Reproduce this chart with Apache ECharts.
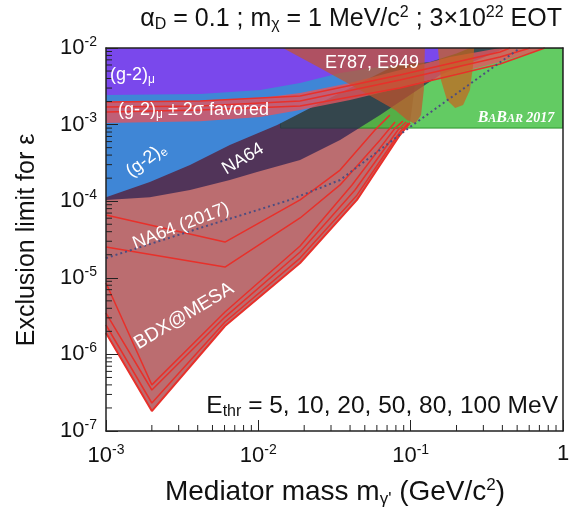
<!DOCTYPE html>
<html><head><meta charset="utf-8">
<script src="https://cdn.jsdelivr.net/npm/echarts@6/dist/echarts.min.js"></script>
<style>html,body{margin:0;padding:0;background:#fff}#c{width:574px;height:515px}</style>
</head><body><div id="c"></div>
<script>
// ---------------- data ----------------
const xMinorTicks = [2e-3,3e-3,4e-3,5e-3,6e-3,7e-3,8e-3,9e-3,2e-2,3e-2,4e-2,5e-2,6e-2,7e-2,8e-2,9e-2,0.2,0.3,0.4,0.5,0.6,0.7,0.8,0.9];
const yMinorTicks = [2e-7,3e-7,4e-7,5e-7,6e-7,7e-7,8e-7,9e-7,2e-6,3e-6,4e-6,5e-6,6e-6,7e-6,8e-6,9e-6,2e-5,3e-5,4e-5,5e-5,6e-5,7e-5,8e-5,9e-5,2e-4,3e-4,4e-4,5e-4,6e-4,7e-4,8e-4,9e-4,2e-3,3e-3,4e-3,5e-3,6e-3,7e-3,8e-3,9e-3];

// (g-2)_e excluded (blue)
const g2eExcl = [[1e-3,1.13e-4],[1.94e-3,1.78e-4],[3.56e-3,2.97e-4],[6.5e-3,5.42e-4],[1.33e-2,9.9e-4],[2.54e-2,1.91e-3],[4.65e-2,3.49e-3],[8.5e-2,6.37e-3],[0.134,1e-2],[1e-3,1e-2]];
// (g-2)_mu excluded (purple)
const g2muExcl = [[1e-3,2.43e-3],[4.15e-3,2.5e-3],[1.03e-2,2.83e-3],[1.88e-2,3.49e-3],[3.44e-2,4.72e-3],[6.3e-2,5.7e-3],[0.134,6.56e-3],[0.2,8.5e-3],[0.245,1e-2],[1e-3,1e-2]];
// (g-2)_mu +- 2 sigma favoured band
const g2muBandUpper = [[1e-3,1.97e-3],[4.15e-3,2.03e-3],[1.03e-2,2.22e-3],[1.88e-2,2.59e-3],[4.0e-2,3.49e-3],[8.5e-2,5.16e-3],[0.181,7.63e-3],[0.386,1e-2]];
const g2muBandLower = [[1e-3,1.05e-3],[4.15e-3,1.11e-3],[1.03e-2,1.26e-3],[1.88e-2,1.55e-3],[4.0e-2,2.1e-3],[8.5e-2,3.0e-3],[0.181,4.45e-3],[0.386,6.56e-3],[0.76,1e-2]];
// BaBar 2017
const babarExcl = [[0.014,9e-4],[1,9e-4],[1,1e-2],[0.014,1e-2]];
// NA64 excluded (dark)
const na64Excl = [[1e-3,1.04e-4],[1.94e-3,1.13e-4],[3.56e-3,1.4e-4],[6.5e-3,1.89e-4],[9.8e-3,2.41e-4],[1.88e-2,3.45e-4],[3.44e-2,6.3e-4],[6.3e-2,1.33e-3],[0.099,2.43e-3],[0.156,4.45e-3],[0.3,7.5e-3],[0.42,1e-2],[1e-3,1e-2]];
// E787, E949 lobes
const e787Lobe1 = [[1.45e-2,1e-2],[2.54e-2,5.48e-3],[4.65e-2,2.83e-3],[7.9e-2,1.55e-3],[9.46e-2,1.15e-3],[0.107,1.02e-3],[0.117,1.33e-3],[0.122,2.83e-3],[0.124,1e-2]];
const e787Lobe2 = [[0.151,1e-2],[0.158,3.82e-3],[0.173,2.1e-3],[0.196,1.65e-3],[0.221,1.8e-3],[0.245,2.83e-3],[0.257,6.0e-3],[0.261,1e-2]];
// BDX@MESA curves, E_thr = 5, 10, 20, 50, 80, 100 MeV
const bdx5   = [[1e-3,1.9e-6],[2e-3,1.82e-7],[6.04e-3,2.35e-6],[1.88e-2,1.56e-5],[4.44e-2,1.04e-4],[8.5e-2,7.3e-4],[0.099,1.05e-3]];
const bdx10  = [[1e-3,2.42e-6],[2e-3,2.32e-7],[6.04e-3,2.65e-6],[1.88e-2,1.81e-5],[4.44e-2,1.2e-4],[8.5e-2,8.0e-4],[0.0962,1.05e-3]];
const bdx20  = [[1e-3,3.47e-6],[2e-3,3.43e-7],[6.04e-3,3.07e-6],[1.88e-2,2.17e-5],[4.31e-2,1.4e-4],[8.26e-2,8.5e-4],[0.0933,1.08e-3]];
const bdx50  = [[1e-3,8.55e-6],[2e-3,4.0e-7],[6.04e-3,3.58e-6],[1.88e-2,2.6e-5],[4.12e-2,1.63e-4],[7.9e-2,9e-4],[0.089,1.11e-3]];
const bdx80  = [[1e-3,2.52e-5],[6.04e-3,1.38e-5],[1.88e-2,6.04e-5],[3.44e-2,1.63e-4],[6.3e-2,6.3e-4],[7.9e-2,1.08e-3]];
const bdx100 = [[1e-3,6.6e-5],[6.04e-3,2.93e-5],[1.88e-2,1.04e-4],[3.44e-2,2.55e-4],[5.83e-2,8.5e-4],[7.3e-2,1.33e-3]];
const bdxUpper1 = [[1e-3,1.97e-3],[4.15e-3,2.03e-3],[1.88e-2,2.36e-3],[8.5e-2,4.45e-3],[0.386,8.87e-3],[0.45,1e-2]];
const bdxUpper2 = [[1e-3,1.7e-3],[4.15e-3,1.75e-3],[1.88e-2,2.03e-3],[8.5e-2,3.82e-3],[0.386,7.63e-3],[0.608,1e-2]];
const bdxUpper3 = [[1e-3,1.46e-3],[4.15e-3,1.55e-3],[1.88e-2,1.75e-3],[8.5e-2,3.0e-3],[0.386,6.18e-3],[0.76,1e-2]];
// NA64 (2017) projection (dotted)
const na64Proj = [[1e-3,1.81e-5],[4.15e-3,4.47e-5],[1.61e-2,1.04e-4],[3.44e-2,1.89e-4],[0.099,9.3e-4],[0.5,9.4e-3],[0.52,1e-2]];

// ---------------- chart ----------------
const FONT = '"Liberation Sans", Arial, Helvetica, sans-serif';
const bdxFill = bdx5.concat([[0.115,1e-2],[1e-3,1e-2]]);
const bandPoly = g2muBandUpper.concat(g2muBandLower.slice().reverse());

function poly(name, pts, fill, z, stroke, lw) {
  return {
    type: 'custom', name: name, coordinateSystem: 'cartesian2d', clip: true, z: z, silent: true,
    renderItem: function (params, api) {
      if (params.dataIndex !== 0) return null;
      return { type: 'polygon', shape: { points: pts.map(function (p) { return api.coord(p); }) },
               style: { fill: fill, stroke: stroke || null, lineWidth: lw || 0 } };
    },
    data: pts
  };
}
function curve(name, pts, color, width, z, type) {
  return { type: 'line', name: name, data: pts, showSymbol: false, symbol: 'none', silent: true, z: z,
           lineStyle: { color: color, width: width, type: type || 'solid' }, clip: true };
}
function tickSeries(vals, isX, len) {
  return {
    type: 'custom', coordinateSystem: 'cartesian2d', clip: false, z: 20, silent: true,
    renderItem: function (params, api) {
      const v = vals[params.dataIndex];
      const p = isX ? api.coord([v, 1e-7]) : api.coord([1e-3, v]);
      return { type: 'line', shape: isX ? { x1: p[0], y1: p[1], x2: p[0], y2: p[1] - len } : { x1: p[0], y1: p[1], x2: p[0] + len, y2: p[1] },
               style: { stroke: '#222', lineWidth: 1 } };
    },
    data: vals.map(function (v) { return isX ? [v, 1e-7] : [1e-3, v]; })
  };
}
function pow10Label(v) {
  if (Math.abs(v - 1) < 1e-9) return '{b|1}';
  const e = Math.round(Math.log10(v));
  return '{b|10}{s|' + e + '}';
}
const tickRich = { b: { fontSize: 22, fontFamily: FONT, color: '#111' }, s: { fontSize: 14, fontFamily: FONT, color: '#111', padding: [0, 0, 12, 0] } };

const option = {
  animation: false,
  backgroundColor: '#fff',
  grid: { left: 106, right: 11, top: 48, bottom: 84, show: false },
  xAxis: [
    { type: 'log', logBase: 10, min: 1e-3, max: 1, position: 'bottom', z: 20,
      axisLine: { show: true, onZero: false, lineStyle: { color: '#222', width: 1.5 } },
      axisTick: { show: true, inside: true, length: 11, lineStyle: { color: '#222', width: 1 } },
      axisLabel: { formatter: pow10Label, rich: tickRich, margin: 12 },
      splitLine: { show: false } },
    { type: 'log', logBase: 10, min: 1e-3, max: 1, position: 'top', z: 20,
      axisLine: { show: true, onZero: false, lineStyle: { color: '#222', width: 1.5 } },
      axisTick: { show: false }, axisLabel: { show: false }, splitLine: { show: false } }
  ],
  yAxis: [
    { type: 'log', logBase: 10, min: 1e-7, max: 1e-2, position: 'left', z: 20,
      axisLine: { show: true, onZero: false, lineStyle: { color: '#222', width: 1.5 } },
      axisTick: { show: true, inside: true, length: 12, lineStyle: { color: '#222', width: 1 } },
      axisLabel: { formatter: pow10Label, rich: tickRich, margin: 9 },
      splitLine: { show: false } },
    { type: 'log', logBase: 10, min: 1e-7, max: 1e-2, position: 'right', z: 20,
      axisLine: { show: true, onZero: false, lineStyle: { color: '#222', width: 1.5 } },
      axisTick: { show: false }, axisLabel: { show: false }, splitLine: { show: false } }
  ],
  series: [
    poly('BDX fill', bdxFill, 'rgba(150,30,35,0.65)', 1),
    poly('BaBar 2017', babarExcl, 'rgba(60,190,60,0.8)', 2, 'rgba(30,140,30,0.9)', 1),
    poly('NA64', na64Excl, 'rgba(40,30,80,0.72)', 3),
    poly('(g-2)e', g2eExcl, '#3f86d6', 4),
    poly('(g-2)mu', g2muExcl, '#7a48ec', 5),
    poly('(g-2)mu band', bandPoly, 'rgba(225,85,95,0.8)', 6),
    poly('E787 1', e787Lobe1, 'rgba(195,85,45,0.72)', 7),
    poly('E787 2', e787Lobe2, 'rgba(200,100,30,0.72)', 7),
    curve('bdx5', bdx5, '#e8302a', 2, 8),
    curve('bdx10', bdx10, '#e8302a', 1.5, 8),
    curve('bdx20', bdx20, '#e8302a', 1.5, 8),
    curve('bdx50', bdx50, '#e8302a', 1.5, 8),
    curve('bdx80', bdx80, '#e8302a', 1.5, 8),
    curve('bdx100', bdx100, '#e8302a', 1.5, 8),
    curve('up1', bdxUpper1, '#e8302a', 1.5, 8),
    curve('up2', bdxUpper2, '#e8302a', 1.5, 8),
    curve('up3', bdxUpper3, '#e8302a', 1.5, 8),
    curve('NA64 2017', na64Proj, '#4d4d80', 2, 9, [2, 3]),
    tickSeries(xMinorTicks, true, 6),
    tickSeries(yMinorTicks, false, 6)
  ],
  graphic: [
    { type: 'text', right: 12, top: 5, z: 30, style: { text: 'α{s|D} = 0.1 ; m{s|χ} = 1 MeV/c{p|2} ; 3×10{p|22} EOT', font: '25px ' + FONT, fill: '#111',
      rich: { s: { fontSize: 16, fontFamily: FONT, fill: '#111', padding: [12, 0, 0, 0] }, p: { fontSize: 16, fontFamily: FONT, fill: '#111', padding: [0, 0, 12, 0] } } } },
    { type: 'text', x: 27, y: 240, rotation: Math.PI / 2, z: 30, style: { text: 'Exclusion limit for ε', font: '25px ' + FONT, fill: '#111', align: 'center', verticalAlign: 'middle' } },
    { type: 'text', x: 335, y: 492, z: 30, style: { text: 'Mediator mass m{s|γ\'} (GeV/c{p|2})', font: '28px ' + FONT, fill: '#111', align: 'center', verticalAlign: 'middle',
      rich: { s: { fontSize: 17, fontFamily: FONT, fill: '#111', padding: [14, 0, 0, 0] }, p: { fontSize: 17, fontFamily: FONT, fill: '#111', padding: [0, 0, 14, 0] } } } },
    { type: 'text', x: 110, y: 75, z: 30, style: { text: '(g-2){s|μ}', font: '18px ' + FONT, fill: '#fff', verticalAlign: 'middle',
      rich: { s: { fontSize: 12, fontFamily: FONT, fill: '#fff', padding: [10, 0, 0, 0] } } } },
    { type: 'text', x: 118, y: 110, z: 30, style: { text: '(g-2){s|μ} ± 2σ favored', font: '18px ' + FONT, fill: '#fff', verticalAlign: 'middle',
      rich: { s: { fontSize: 12, fontFamily: FONT, fill: '#fff', padding: [10, 0, 0, 0] } } } },
    { type: 'text', x: 146, y: 160, rotation: 37 * Math.PI / 180, z: 30, style: { text: '(g-2){s|e}', font: '18px ' + FONT, fill: '#fff', align: 'center', verticalAlign: 'middle',
      rich: { s: { fontSize: 12, fontFamily: FONT, fill: '#fff', padding: [10, 0, 0, 0] } } } },
    { type: 'text', x: 243, y: 159, rotation: 31 * Math.PI / 180, z: 30, style: { text: 'NA64', font: '18px ' + FONT, fill: '#fff', align: 'center', verticalAlign: 'middle' } },
    { type: 'text', x: 181, y: 226, rotation: 21 * Math.PI / 180, z: 30, style: { text: 'NA64 (2017)', font: '18px ' + FONT, fill: '#fff', align: 'center', verticalAlign: 'middle' } },
    { type: 'text', x: 184, y: 316, rotation: 31 * Math.PI / 180, z: 30, style: { text: 'BDX@MESA', font: '19px ' + FONT, fill: '#fff', align: 'center', verticalAlign: 'middle' } },
    { type: 'text', x: 372, y: 63, z: 30, style: { text: 'E787, E949', font: '18px ' + FONT, fill: '#fff', align: 'center', verticalAlign: 'middle' } },
    { type: 'text', x: 516, y: 118, z: 30, style: { text: '{a|B}{b|A}{a|B}{b|AR} {c|2017}', align: 'center', verticalAlign: 'middle', fill: '#fff',
      rich: { a: { fontSize: 16, fontFamily: '"Liberation Serif", serif', fontStyle: 'italic', fontWeight: 'bold', fill: '#fff' },
              b: { fontSize: 12, fontFamily: '"Liberation Serif", serif', fontStyle: 'italic', fontWeight: 'bold', fill: '#fff', padding: [2, 0, 0, 0] },
              c: { fontSize: 14, fontFamily: '"Liberation Serif", serif', fontStyle: 'italic', fontWeight: 'bold', fill: '#fff', padding: [1, 0, 0, 0] } } } },
    { type: 'text', right: 16, y: 406, z: 30, style: { text: 'E{s|thr} = 5, 10, 20, 50, 80, 100 MeV', font: '24.5px ' + FONT, fill: '#111', verticalAlign: 'middle',
      rich: { s: { fontSize: 16, fontFamily: FONT, fill: '#111', padding: [12, 0, 0, 0] } } } }
  ]
};
const chart = echarts.init(document.getElementById('c'));
chart.setOption(option);
</script>
</body></html>
